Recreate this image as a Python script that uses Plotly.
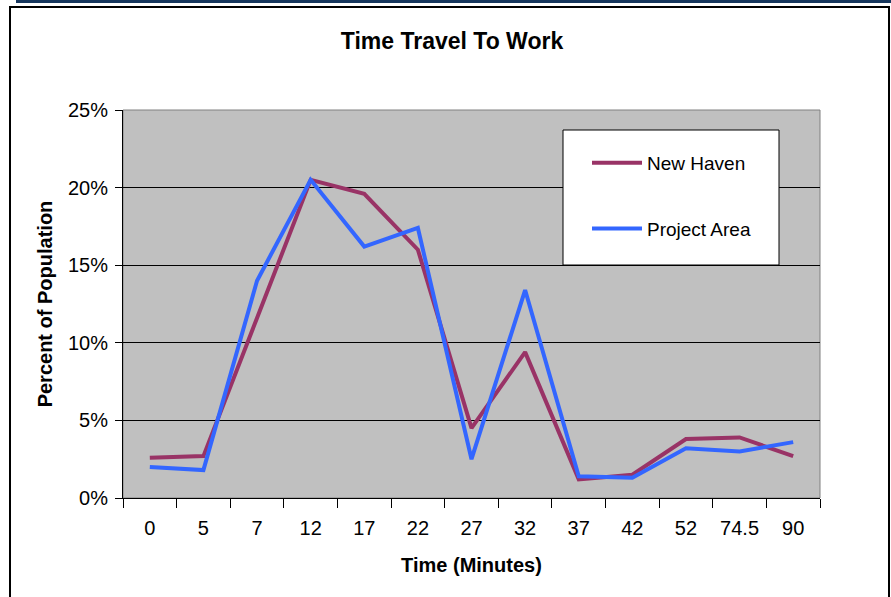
import plotly.graph_objects as go

categories = ["0", "5", "7", "12", "17", "22", "27", "32", "37", "42", "52", "74.5", "90"]
new_haven = [0.026, 0.027, 0.116, 0.205, 0.196, 0.160, 0.045, 0.094, 0.012, 0.015, 0.038, 0.039, 0.027]
project_area = [0.020, 0.018, 0.140, 0.205, 0.162, 0.174, 0.025, 0.134, 0.014, 0.013, 0.032, 0.030, 0.036]
y_ticks = [0, 0.05, 0.10, 0.15, 0.20, 0.25]
y_tick_labels = ["0%", "5%", "10%", "15%", "20%", "25%"]

W, H = 891, 597
L, R, T, B = 123, 71, 110, 99
pw, ph = W - L - R, H - T - B

def px_x(p):
    return (p - L) / pw

def px_y(p):
    return (H - B - p) / ph

font = "Liberation Sans, Arial, sans-serif"

fig = go.Figure()
fig.add_trace(go.Scatter(x=categories, y=new_haven, mode="lines", name="New Haven",
                         line=dict(color="#993366", width=4), legendgroup="a"))
fig.add_trace(go.Scatter(x=categories, y=project_area, mode="lines", name="Project Area",
                         line=dict(color="#3366FF", width=4), legendgroup="b"))

fig.update_layout(
    width=W, height=H,
    margin=dict(l=L, r=R, t=T, b=B),
    paper_bgcolor="white", plot_bgcolor="#C0C0C0",
    font=dict(family=font, size=19, color="black"),
    title=dict(text="<b>Time Travel To Work</b>", x=452 / W, xref="container", xanchor="center",
               y=1 - 41 / H, yref="container", yanchor="middle",
               font=dict(size=23, family=font)),
    showlegend=True,
    legend=dict(x=px_x(587), y=px_y(144), xanchor="left", yanchor="top",
                bgcolor="rgba(0,0,0,0)", borderwidth=0,
                font=dict(size=19, family=font), tracegroupgap=38,
                itemwidth=50),
    xaxis=dict(type="category", range=[-0.5, 12.5], showgrid=False, zeroline=False,
               showline=True, linecolor="black", linewidth=1,
               ticks="outside", tickson="boundaries", ticklen=9, tickcolor="black",
               ticklabelstandoff=12, tickfont=dict(size=20),
               title=dict(text="<b>Time (Minutes)</b>", font=dict(size=20, family=font), standoff=19)),
    yaxis=dict(range=[0, 0.25], tickvals=y_ticks, ticktext=y_tick_labels,
               showgrid=True, gridcolor="black", gridwidth=1, zeroline=False,
               showline=True, linecolor="black", linewidth=1,
               ticks="outside", ticklen=7, tickcolor="black", ticklabelstandoff=3,
               tickfont=dict(size=20),
               title=dict(text="<b>Percent of Population</b>", font=dict(size=20, family=font), standoff=9)),
    shapes=[
        dict(type="rect", xref="paper", yref="paper", x0=0, x1=1, y0=0, y1=1,
             line=dict(color="#808080", width=1), layer="below"),
        dict(type="rect", xref="paper", yref="paper", x0=px_x(16), x1=px_x(W + 5),
             y0=px_y(3), y1=px_y(-5), line=dict(width=0), fillcolor="#17375E"),
        dict(type="rect", xref="paper", yref="paper", x0=px_x(10), x1=px_x(889),
             y0=px_y(H + 10), y1=px_y(7), line=dict(color="black", width=2)),
        dict(type="rect", xref="paper", yref="paper", x0=px_x(563), x1=px_x(779),
             y0=px_y(265), y1=px_y(130), line=dict(color="black", width=1),
             fillcolor="white", layer="above"),
    ],
)

fig.write_html("out.html", config={"displayModeBar": False},
               post_script="document.body.style.margin='0';document.body.style.padding='0';")
